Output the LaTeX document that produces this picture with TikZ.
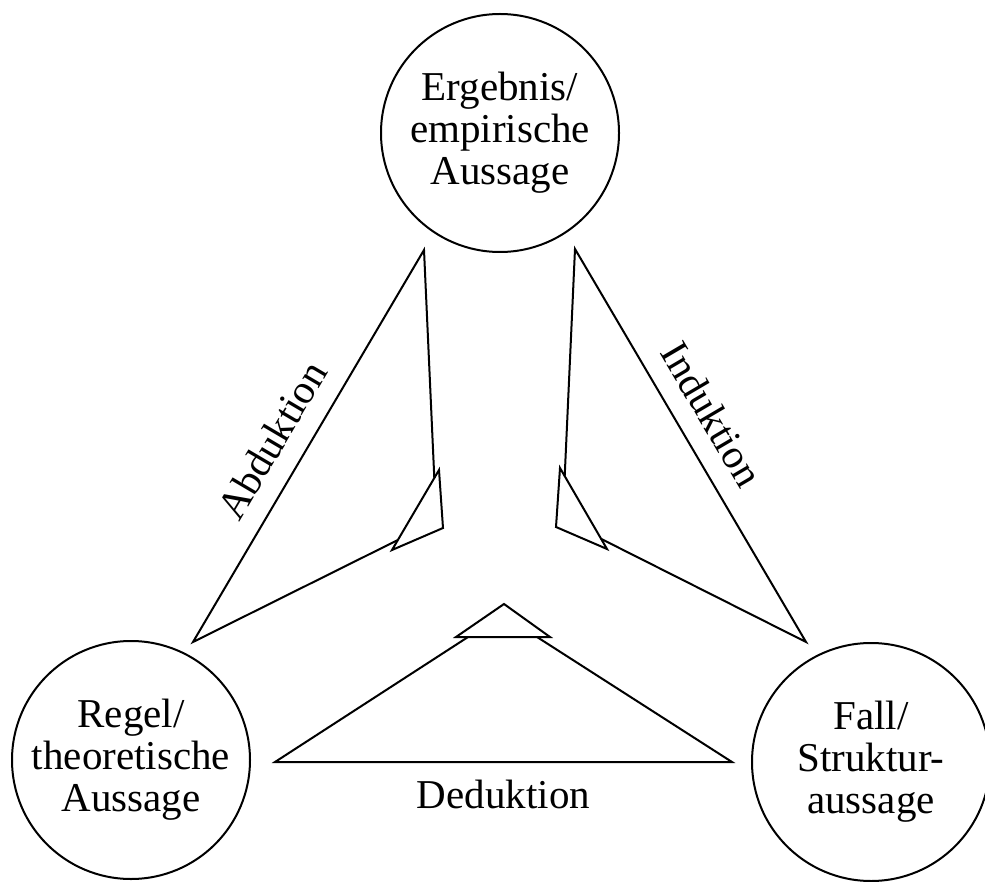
\documentclass[tikz,border=0pt]{standalone}
\usepackage{fontspec}
\setmainfont{Liberation Serif}
\usetikzlibrary{calc}

\begin{document}
\begin{tikzpicture}[x=1pt, y=1pt, line width=2pt]
    \tikzstyle{aussage} = [circle, draw, minimum size=238pt, inner sep=0pt, align=center, font=\fontsize{41}{42}\selectfont]
    \tikzstyle{schluss} = [font=\fontsize{41}{42}\selectfont, inner sep=19pt]

    \useasboundingbox (0,0) rectangle (985,-882);

    % Aussagen
    \node [aussage] (ergebnis) at (500,-133) {Ergebnis/\\empirische\\Aussage};
    \node [aussage] (regel) at (131,-760) {Regel/\\theoretische\\Aussage};
    \node [aussage] (fall) at (871,-762) {Fall/\\Struktur-\\aussage};

    % Abduktion
    \coordinate (abdtop) at (424,-250);
    \coordinate (abdapex) at (193,-642);
    \coordinate (abdheada) at (439,-470);
    \coordinate (abdtip) at (443,-528);
    \coordinate (abdheadb) at (392,-550);
    \coordinate (abdin) at ($(abdheada)!0.1!(abdheadb)$);
    \coordinate (abdout) at ($(abdheada)!0.875!(abdheadb)$);

    % Induktion
    \coordinate (indtop) at (575,-249);
    \coordinate (indapex) at (806,-642);
    \coordinate (indheada) at (560,-468);
    \coordinate (indtip) at (556,-527);
    \coordinate (indheadb) at (607,-549);
    \coordinate (indin) at ($(indheada)!0.1!(indheadb)$);
    \coordinate (indout) at ($(indheada)!0.875!(indheadb)$);

    % Deduktion
    \coordinate (dedleft) at (275,-762);
    \coordinate (dedright) at (732,-762);
    \coordinate (dedheada) at (456,-637);
    \coordinate (dedtip) at (504,-604);
    \coordinate (dedheadb) at (550,-637);
    \coordinate (dedin) at ($(dedheada)!0.128!(dedheadb)$);
    \coordinate (dedout) at ($(dedheada)!0.862!(dedheadb)$);

    % Pfeile
    \draw (abdout) -- (abdapex) -- node [schluss, sloped, above, pos=0.47] {Abduktion} (abdtop) -- (abdin);
    \draw (abdheada) -- (abdtip) -- (abdheadb) -- cycle;
    \draw (indin) -- (indtop) -- node [schluss, sloped, above, pos=0.465] {Induktion} (indapex) -- (indout);
    \draw (indheada) -- (indtip) -- (indheadb) -- cycle;
    \draw (dedin) -- (dedleft) -- node [schluss, below, inner sep=17pt] {Deduktion} (dedright) -- (dedout);
    \draw (dedheada) -- (dedtip) -- (dedheadb) -- cycle;
\end{tikzpicture}
\end{document}
